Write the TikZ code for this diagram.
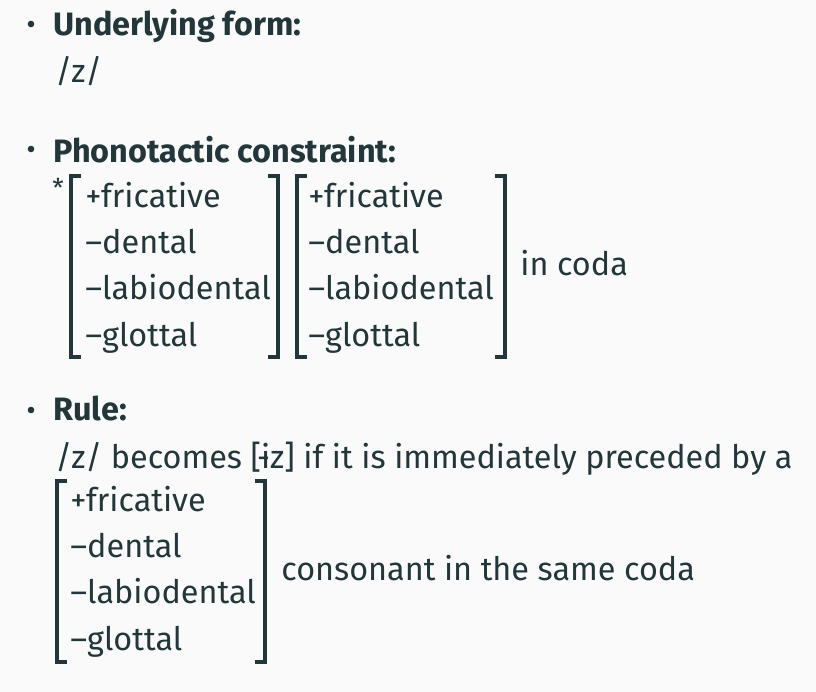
\documentclass[tikz,border=0pt]{standalone}
\usepackage{fontspec}
\setmainfont{Fira Sans}
\usepackage{tikz}
\usetikzlibrary{positioning}

\definecolor{mteal}{HTML}{23373B}
\definecolor{mbg}{HTML}{FAFAFA}

\begin{document}
\begin{tikzpicture}[x=0.5pt,y=-0.5pt,node distance=23.2pt,
                    every node/.style={text=mteal,inner sep=0pt},
                    font=\fontsize{16.2}{19}\selectfont]
  \tikzstyle{txt}=[anchor=base west]
  \tikzstyle{head}=[txt,font=\fontsize{16.2}{19}\selectfont\bfseries]
  \tikzstyle{bul}=[circle,fill=mteal,minimum size=3.3pt]
  \tikzstyle{brk}=[draw=mteal,line width=1.6pt,line cap=butt]

  \fill[mbg] (0,0) rectangle (816,692);
  \useasboundingbox (0,0) rectangle (816,692);

  % underlying form
  \node[bul] (b1) at (31,24) {};
  \node[head] (uf) at (53,35) {Underlying form:};
  \node[txt] (z) at (55,82) {/z/};

  % phonotactic constraint
  \node[bul] (b2) at (31,149) {};
  \node[head] (pc) at (53,162) {Phonotactic constraint:};
  \node (star) at (58,188) {\fontsize{13}{14}\selectfont *};
  \node[txt] (a1) at (85,207) {+fricative};
  \node[txt, below=of a1.base west, anchor=base west] (a2) {–dental};
  \node[txt, below=of a2.base west, anchor=base west] (a3) {–labiodental};
  \node[txt, below=of a3.base west, anchor=base west] (a4) {–glottal};
  \node[txt] (c1) at (308,207) {+fricative};
  \node[txt, below=of c1.base west, anchor=base west] (c2) {–dental};
  \node[txt, below=of c2.base west, anchor=base west] (c3) {–labiodental};
  \node[txt, below=of c3.base west, anchor=base west] (c4) {–glottal};
  \node[txt] (coda) at (520,275) {in coda};
  \draw[brk] (81,176) -- (71,176) -- (71,357) -- (81,357);
  \draw[brk] (268,176) -- (278,176) -- (278,357) -- (268,357);
  \draw[brk] (307,176) -- (297,176) -- (297,357) -- (307,357);
  \draw[brk] (495,176) -- (505,176) -- (505,357) -- (495,357);

  % rule
  \node[bul] (b3) at (31,410) {};
  \node[head] (ru) at (53,420) {Rule:};
  \node[txt] (rl) at (55,468) {/z/ becomes [ɨz] if it is immediately preceded by a};
  \node[txt] (r1) at (70,511) {+fricative};
  \node[txt, below=of r1.base west, anchor=base west] (r2) {–dental};
  \node[txt, below=of r2.base west, anchor=base west] (r3) {–labiodental};
  \node[txt, below=of r3.base west, anchor=base west] (r4) {–glottal};
  \node[txt] (cons) at (281,580) {consonant in the same coda};
  \draw[brk] (67,481) -- (57,481) -- (57,662) -- (67,662);
  \draw[brk] (255,481) -- (265,481) -- (265,662) -- (255,662);
\end{tikzpicture}
\end{document}
